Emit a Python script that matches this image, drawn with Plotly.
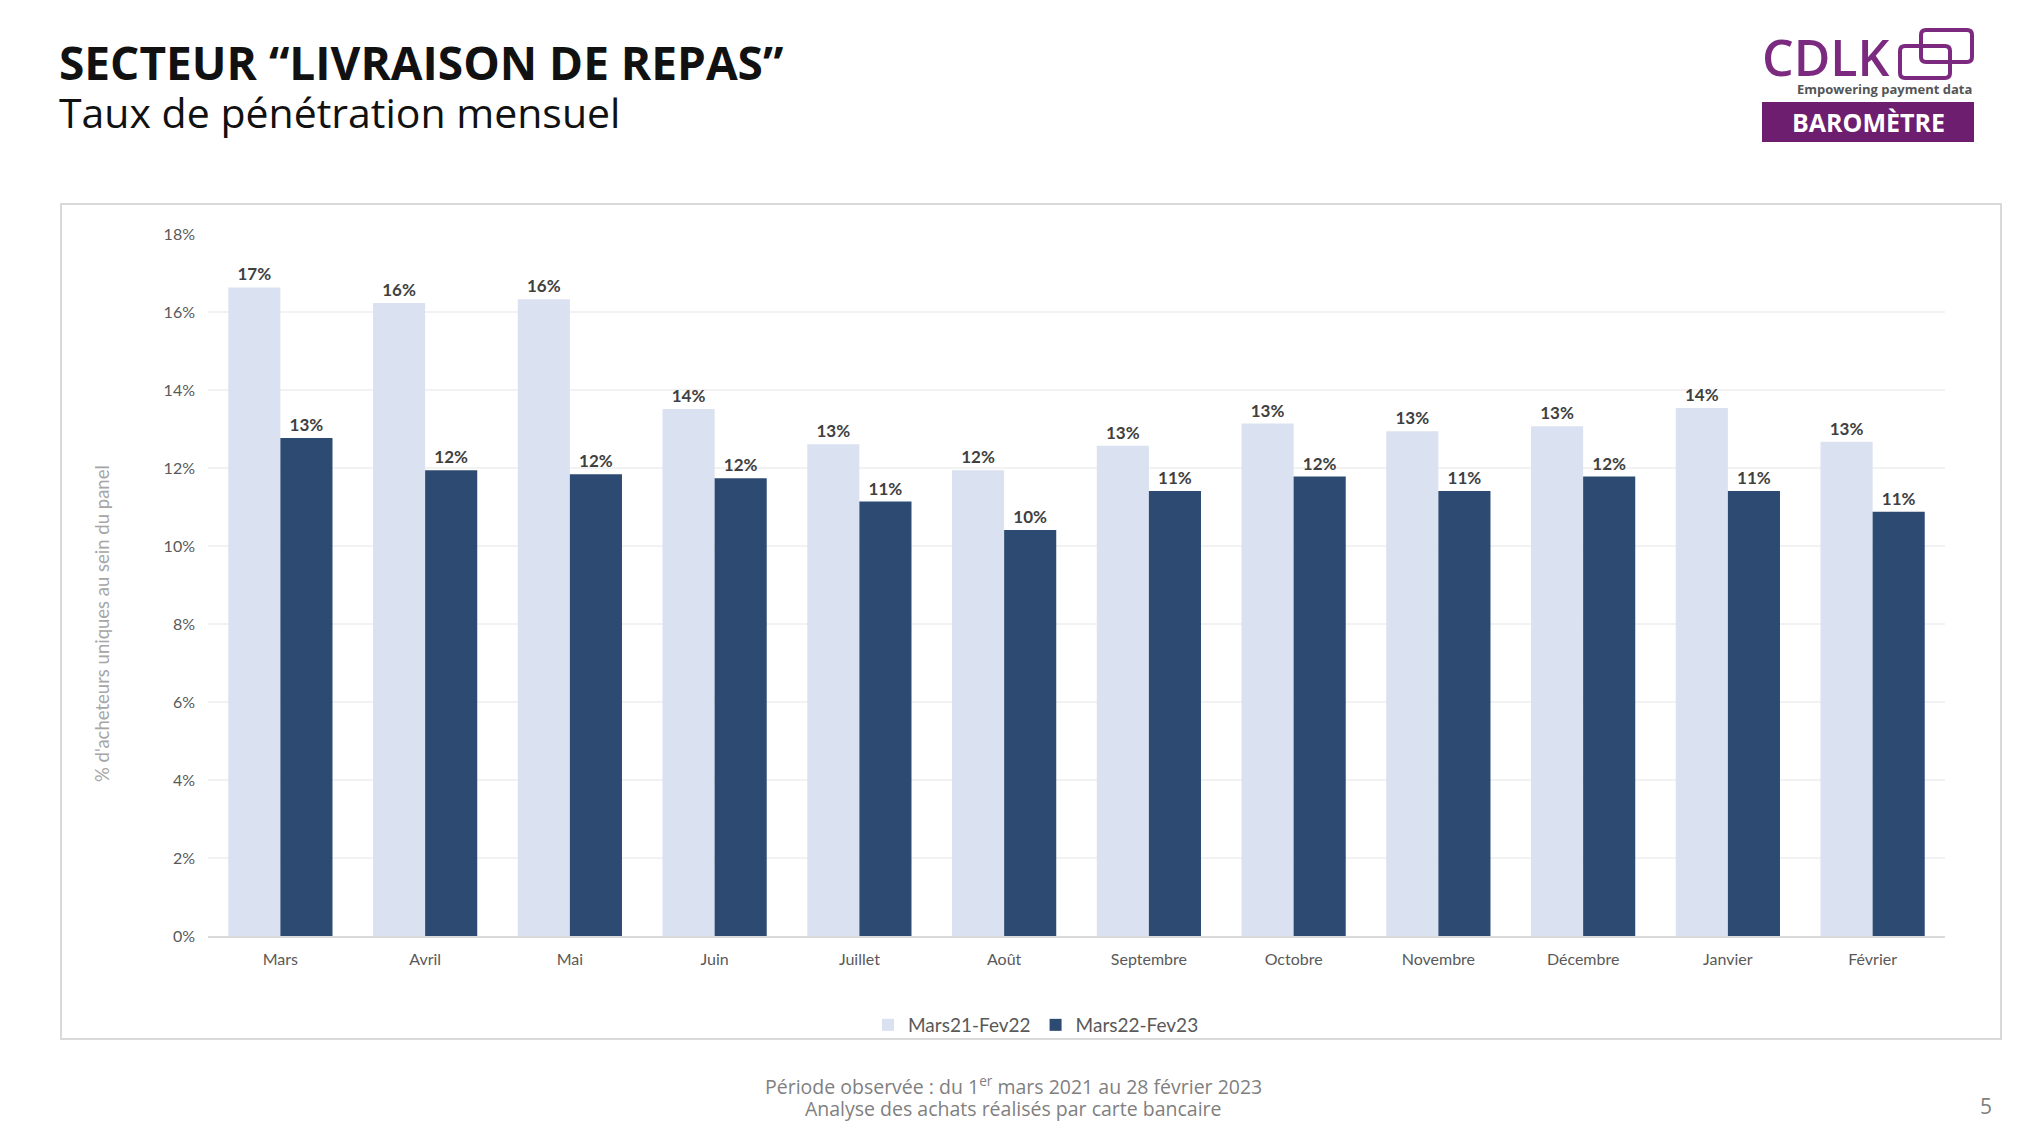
import plotly.graph_objects as go

months = ["Mars", "Avril", "Mai", "Juin", "Juillet", "Août", "Septembre",
          "Octobre", "Novembre", "Décembre", "Janvier", "Février"]
serie_2122 = [0.1663, 0.1623, 0.1633, 0.1351, 0.1261, 0.1194, 0.1257,
              0.1314, 0.1294, 0.1307, 0.1354, 0.1267]
serie_2223 = [0.1277, 0.1194, 0.1184, 0.1174, 0.1114, 0.1041, 0.1141,
              0.1178, 0.1141, 0.1178, 0.1141, 0.1088]
series_names = ["Mars21-Fev22", "Mars22-Fev23"]
y_ticks = [0, 0.02, 0.04, 0.06, 0.08, 0.10, 0.12, 0.14, 0.16, 0.18]

W, H = 2026, 1136
OFF = 8  # page body margin
L, R, T, B = 208, 1945, 234, 936  # plot area in screen pixels


def px(x):
    return (x - L) / (R - L)


def py(y):
    return (B - y) / (B - T)


LIGHT = "#DAE1F0"
DARK = "#2D4A72"
TXT = "#595959"
CHART_FONT = "Lato"
TITLE_FONT = "Open Sans"

fig = go.Figure()
for name, vals, col in [(series_names[0], serie_2122, LIGHT), (series_names[1], serie_2223, DARK)]:
    fig.add_trace(go.Bar(
        x=months, y=vals, name=name, marker=dict(color=col, line=dict(width=0)),
        texttemplate="<b>%{y:.0%}</b>", textposition="outside",
        textfont=dict(family=CHART_FONT, size=17, color="#404040"),
        cliponaxis=False,
    ))

fig.update_layout(
    width=W, height=H,
    margin=dict(l=L - OFF, r=W - R + OFF, t=T - OFF, b=H - B + OFF),
    paper_bgcolor="white", plot_bgcolor="white",
    barmode="group", bargap=0.28, bargroupgap=0,
    showlegend=True,
    legend=dict(orientation="h", x=px(1036), xanchor="center", y=py(1025), yanchor="middle",
                bgcolor="rgba(0,0,0,0)",
                font=dict(family=CHART_FONT, size=19, color=TXT), itemwidth=30,
                traceorder="normal"),
    font=dict(family=CHART_FONT, color=TXT),
    xaxis=dict(showgrid=False, showline=True, linecolor="#D9D9D9", linewidth=2,
               ticks="", ticklabelstandoff=8,
               tickfont=dict(family=CHART_FONT, size=16, color=TXT)),
    yaxis=dict(range=[0, 0.18], tickvals=y_ticks, tickformat=".0%",
               showgrid=True, gridcolor="#F2F2F2", gridwidth=1.5, zeroline=False,
               showline=False, ticks="", ticklabelstandoff=12,
               tickfont=dict(family=CHART_FONT, size=16, color=TXT)),
)

# chart frame
fig.add_shape(type="rect", xref="paper", yref="paper",
              x0=px(61), x1=px(2001), y0=py(1039), y1=py(204),
              line=dict(color="#D9D9D9", width=2), fillcolor="rgba(0,0,0,0)", layer="below")

annots = [
    dict(x=px(57), y=py(62), text="<b>SECTEUR “LIVRAISON DE REPAS”</b>", xanchor="left", yanchor="middle",
         font=dict(family=TITLE_FONT, size=46, color="#111111")),
    dict(x=px(57), y=py(112), text="Taux de pénétration mensuel", xanchor="left", yanchor="middle",
         font=dict(family=TITLE_FONT, size=41, color="#111111")),
    dict(x=px(102), y=py(624), text="% d'acheteurs uniques au sein du panel", textangle=-90,
         xanchor="center", yanchor="middle", font=dict(family=CHART_FONT, size=18.5, color="#A6A6A6")),
    dict(x=px(1013), y=py(1085), text="Période observée : du 1<sup>er</sup> mars 2021 au 28 février 2023",
         xanchor="center", yanchor="middle", font=dict(family=TITLE_FONT, size=19.5, color="#7F7F7F")),
    dict(x=px(1013), y=py(1108), text="Analyse des achats réalisés par carte bancaire",
         xanchor="center", yanchor="middle", font=dict(family=TITLE_FONT, size=19.5, color="#7F7F7F")),
    dict(x=px(1986), y=py(1106), text="5", xanchor="center", yanchor="middle",
         font=dict(family=TITLE_FONT, size=21, color="#7F7F7F")),
    # logo
    dict(x=px(1760), y=py(57), text="CDLK", xanchor="left", yanchor="middle",
         font=dict(family=TITLE_FONT, size=50, color="#7B2A80", weight=600)),
    dict(x=px(1974), y=py(89), text="<b>Empowering payment data</b>", xanchor="right", yanchor="middle",
         font=dict(family=TITLE_FONT, size=13, color="#555555")),
    dict(x=px(1868), y=py(122), text="<b>BAROMÈTRE</b>", xanchor="center", yanchor="middle",
         font=dict(family=TITLE_FONT, size=25, color="white")),
]
for a in annots:
    a.update(xref="paper", yref="paper", showarrow=False)
    fig.add_annotation(**a)

# logo box and card icon
fig.add_shape(type="rect", xref="paper", yref="paper", x0=px(1762), x1=px(1974), y0=py(142), y1=py(102),
              line=dict(width=0), fillcolor="#6E1E6E")


def rrect(x0, y0, x1, y1, r=5):
    return (f"M {px(x0 + r)} {py(y0)} L {px(x1 - r)} {py(y0)} Q {px(x1)} {py(y0)} {px(x1)} {py(y0 + r)} "
            f"L {px(x1)} {py(y1 - r)} Q {px(x1)} {py(y1)} {px(x1 - r)} {py(y1)} "
            f"L {px(x0 + r)} {py(y1)} Q {px(x0)} {py(y1)} {px(x0)} {py(y1 - r)} "
            f"L {px(x0)} {py(y0 + r)} Q {px(x0)} {py(y0)} {px(x0 + r)} {py(y0)} Z")


fig.add_shape(type="path", xref="paper", yref="paper", path=rrect(1921, 30, 1972, 62),
              line=dict(color="#7B2A80", width=4))
fig.add_shape(type="path", xref="paper", yref="paper", path=rrect(1900, 46, 1950, 78),
              line=dict(color="#7B2A80", width=4))

fig.write_html("out.html")
